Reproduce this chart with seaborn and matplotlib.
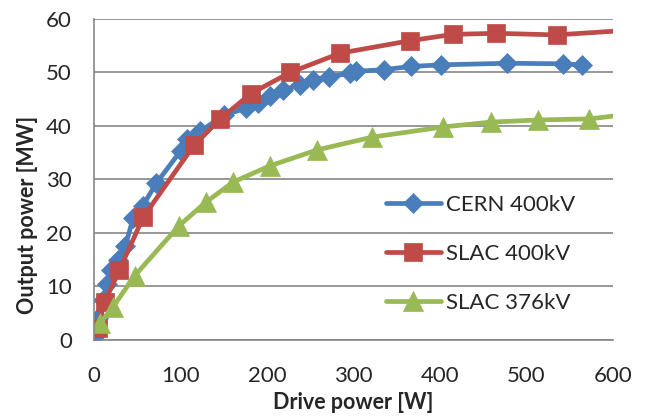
import pandas as pd
import matplotlib
matplotlib.use("Agg")
import matplotlib.pyplot as plt
import seaborn as sns

# values
cern_x = [0, 5, 10, 15, 20, 27, 36, 45, 56, 72, 100, 107, 123, 150, 176, 190,
          204, 219, 238, 253, 272, 296, 303, 335, 366, 401, 478, 542, 564]
cern_y = [0.5, 4.0, 7.5, 10.5, 13.0, 15.0, 17.5, 22.7, 25.0, 29.3, 35.3, 37.5,
          39.0, 42.0, 43.3, 44.3, 45.5, 46.7, 47.7, 48.6, 49.2, 49.8, 50.2,
          50.5, 51.1, 51.4, 51.7, 51.6, 51.4]

slac400_x = [4, 12, 29, 57, 116, 146, 181, 227, 285, 365, 415, 465, 535, 640]
slac400_y = [2.3, 7.0, 13.0, 23.0, 36.5, 41.3, 46.0, 50.0, 53.6, 55.9, 57.1,
             57.3, 57.0, 58.1]

slac376_x = [7, 22, 47, 98, 129, 161, 203, 258, 322, 404, 459, 514, 573, 620]
slac376_y = [3.1, 6.2, 12.0, 21.3, 25.7, 29.5, 32.5, 35.5, 37.9, 39.8, 40.7,
             41.1, 41.3, 42.2]

labels = ["CERN 400kV", "SLAC 400kV", "SLAC 376kV"]
colors = ["#4A7EBB", "#BE4B48", "#98B954"]
markers = ["D", "s", "^"]
sizes = [10, 13, 14]

sns.set_style("white")
plt.rcParams["font.family"] = ["Lato", "DejaVu Sans"]

fig, ax = plt.subplots(figsize=(6.45, 4.19), dpi=100)
fig.subplots_adjust(left=0.146, right=0.950, top=0.955, bottom=0.189)

series = [(cern_x, cern_y), (slac400_x, slac400_y), (slac376_x, slac376_y)]
for (xs, ys), lab, col, mk, ms in zip(series, labels, colors, markers, sizes):
    df = pd.DataFrame({"x": xs, "y": ys})
    sns.lineplot(data=df, x="x", y="y", ax=ax, sort=False, color=col,
                 linewidth=3.4, marker=mk, markersize=ms, markeredgecolor=col,
                 markeredgewidth=0.5, label=lab)

ax.set_xlim(0, 600)
ax.set_ylim(0, 60)
ax.set_xticks(range(0, 601, 100))
ax.set_yticks(range(0, 61, 10))
ax.grid(axis="y", color="#868686", linewidth=1.2)
ax.set_axisbelow(True)

for s in ["top", "right"]:
    ax.spines[s].set_visible(False)
for s in ["left", "bottom"]:
    ax.spines[s].set_color("#868686")
    ax.spines[s].set_linewidth(1.2)

ax.tick_params(axis="x", direction="in", length=5, width=1.2, color="#868686",
               labelsize=16, pad=19)
ax.tick_params(axis="y", length=0, labelsize=16, pad=16)

ax.set_xlabel("Drive power [W]", fontsize=15.5, fontweight="bold", labelpad=4)
ax.set_ylabel("Output power [MW]", fontsize=15.5, fontweight="bold")
ax.yaxis.set_label_coords(-0.108, 0.39)

ax.legend(loc="upper left", bbox_to_anchor=(0.598, 0.535),
          bbox_transform=fig.transFigure, frameon=False, fontsize=16,
          borderpad=0, borderaxespad=0, handlelength=2.5, handletextpad=0.2,
          labelspacing=1.3)

fig.savefig("out.png", dpi=100)
